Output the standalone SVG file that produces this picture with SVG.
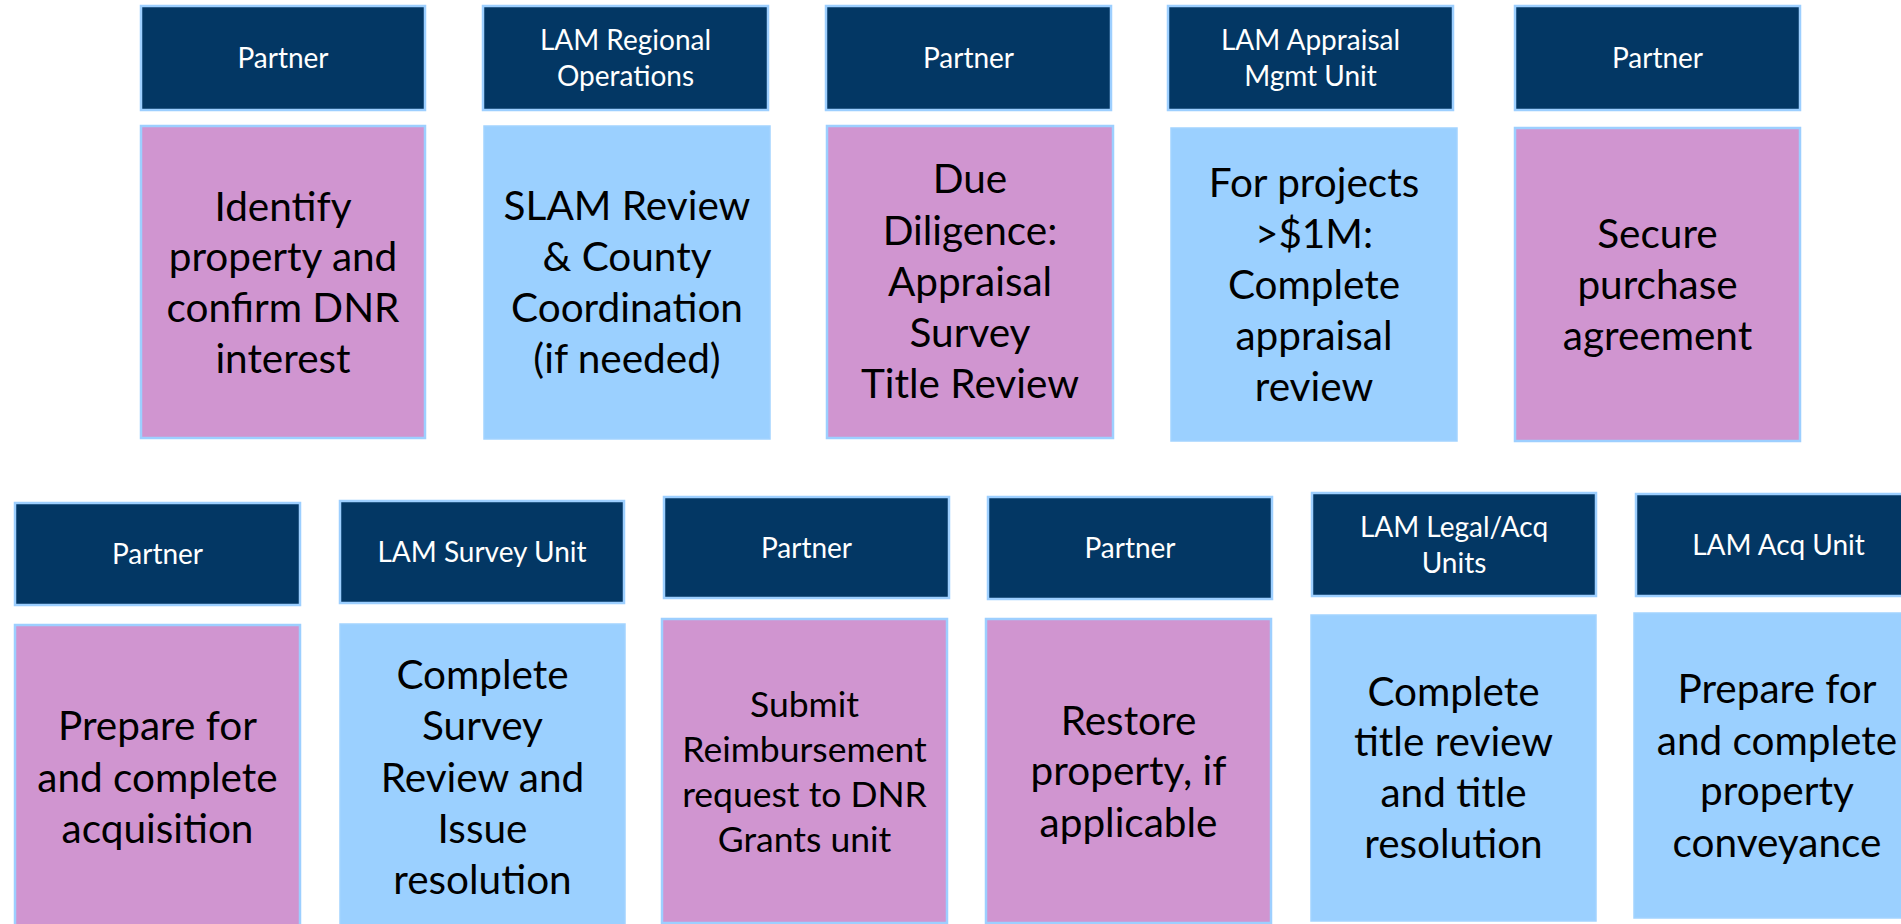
<svg xmlns="http://www.w3.org/2000/svg" width="1901" height="924" viewBox="0 0 1901 924">
<style>
.hd{fill:#033764;stroke:#9DCFFF;stroke-width:2.5}
.pk{fill:#D095D0;stroke:#9DCFFF;stroke-width:2.5}
.bl{fill:#9BD0FF;stroke:#A3D3FF;stroke-width:1.5}
.ht{font-family:Lato,"Liberation Sans",sans-serif;font-size:28px;fill:#FFFFFF;text-anchor:middle}
.bt{font-family:Lato,"Liberation Sans",sans-serif;font-size:40.5px;fill:#000000;text-anchor:middle}
.st{font-size:35.5px}
</style>
<rect width="1901" height="924" fill="#FFFFFF"/>
<g id="connectors"/>
<g id="row1">
<g id="h1"><rect class="hd" x="141" y="6" width="284" height="104"/><text class="ht" x="283" y="68">Partner</text></g>
<g id="b1"><rect class="pk" x="141" y="126" width="284" height="312"/><text class="bt" x="283"><tspan x="283" y="221">Identify</tspan><tspan x="283" y="271">property and</tspan><tspan x="283" y="322">confirm DNR</tspan><tspan x="283" y="373">interest</tspan></text></g>
<g id="h2"><rect class="hd" x="483" y="6" width="285" height="104"/><text class="ht" x="625.5"><tspan x="625.5" y="50">LAM Regional</tspan><tspan x="625.5" y="86">Operations</tspan></text></g>
<g id="b2"><rect class="bl" x="484" y="126" width="286" height="313"/><text class="bt"><tspan x="627" y="220">SLAM Review</tspan><tspan x="627" y="271">&amp; County</tspan><tspan x="627" y="322">Coordination</tspan><tspan x="627" y="373">(if needed)</tspan></text></g>
<g id="h3"><rect class="hd" x="826" y="6" width="285" height="104"/><text class="ht" x="968.5" y="68">Partner</text></g>
<g id="b3"><rect class="pk" x="827" y="126" width="286" height="312"/><text class="bt"><tspan x="970" y="193">Due</tspan><tspan x="970" y="245">Diligence:</tspan><tspan x="970" y="296">Appraisal</tspan><tspan x="970" y="347">Survey</tspan><tspan x="970" y="398">Title Review</tspan></text></g>
<g id="h4"><rect class="hd" x="1168" y="6" width="285" height="104"/><text class="ht"><tspan x="1310.5" y="50">LAM Appraisal</tspan><tspan x="1310.5" y="86">Mgmt Unit</tspan></text></g>
<g id="b4"><rect class="bl" x="1171" y="128" width="286" height="313"/><text class="bt"><tspan x="1314" y="197">For projects</tspan><tspan x="1314" y="248">&gt;$1M:</tspan><tspan x="1314" y="299">Complete</tspan><tspan x="1314" y="350">appraisal</tspan><tspan x="1314" y="401">review</tspan></text></g>
<g id="h5"><rect class="hd" x="1515" y="6" width="285" height="104"/><text class="ht" x="1657.5" y="68">Partner</text></g>
<g id="b5"><rect class="pk" x="1515" y="128" width="285" height="313"/><text class="bt"><tspan x="1657.5" y="248">Secure</tspan><tspan x="1657.5" y="299">purchase</tspan><tspan x="1657.5" y="350">agreement</tspan></text></g>
</g>
<g id="row2">
<g id="h6"><rect class="hd" x="15" y="503" width="285" height="102"/><text class="ht" x="157.5" y="564">Partner</text></g>
<g id="b6"><rect class="pk" x="15" y="625" width="285" height="310"/><text class="bt"><tspan x="157.5" y="740">Prepare for</tspan><tspan x="157.5" y="792">and complete</tspan><tspan x="157.5" y="843">acquisition</tspan></text></g>
<g id="h7"><rect class="hd" x="340" y="501" width="284" height="102"/><text class="ht" x="482" y="562">LAM Survey Unit</text></g>
<g id="b7"><rect class="bl" x="340" y="624" width="285" height="310"/><text class="bt"><tspan x="482.5" y="689">Complete</tspan><tspan x="482.5" y="740">Survey</tspan><tspan x="482.5" y="792">Review and</tspan><tspan x="482.5" y="843">Issue</tspan><tspan x="482.5" y="894">resolution</tspan></text></g>
<g id="h8"><rect class="hd" x="664" y="497" width="285" height="101"/><text class="ht" x="806.5" y="558">Partner</text></g>
<g id="b8"><rect class="pk" x="662" y="619" width="285" height="304"/><text class="bt st"><tspan x="804.5" y="717">Submit</tspan><tspan x="804.5" y="762">Reimbursement</tspan><tspan x="804.5" y="807">request to DNR</tspan><tspan x="804.5" y="852">Grants unit</tspan></text></g>
<g id="h9"><rect class="hd" x="988" y="497" width="284" height="102"/><text class="ht" x="1130" y="558">Partner</text></g>
<g id="b9"><rect class="pk" x="986" y="619" width="285" height="304"/><text class="bt"><tspan x="1128.5" y="735">Restore</tspan><tspan x="1128.5" y="785">property, if</tspan><tspan x="1128.5" y="837">applicable</tspan></text></g>
<g id="h10"><rect class="hd" x="1312" y="493" width="284" height="103"/><text class="ht"><tspan x="1454" y="537">LAM Legal/Acq</tspan><tspan x="1454" y="573">Units</tspan></text></g>
<g id="b10"><rect class="bl" x="1311" y="615" width="285" height="306"/><text class="bt"><tspan x="1453.5" y="706">Complete</tspan><tspan x="1453.5" y="756">title review</tspan><tspan x="1453.5" y="807">and title</tspan><tspan x="1453.5" y="858">resolution</tspan></text></g>
<g id="h11"><rect class="hd" x="1636" y="494" width="285" height="102"/><text class="ht" x="1778.5" y="555">LAM Acq Unit</text></g>
<g id="b11"><rect class="bl" x="1634" y="613" width="287" height="305"/><text class="bt"><tspan x="1777" y="703">Prepare for</tspan><tspan x="1777" y="755">and complete</tspan><tspan x="1777" y="805">property</tspan><tspan x="1777" y="857">conveyance</tspan></text></g>
</g>
</svg>
